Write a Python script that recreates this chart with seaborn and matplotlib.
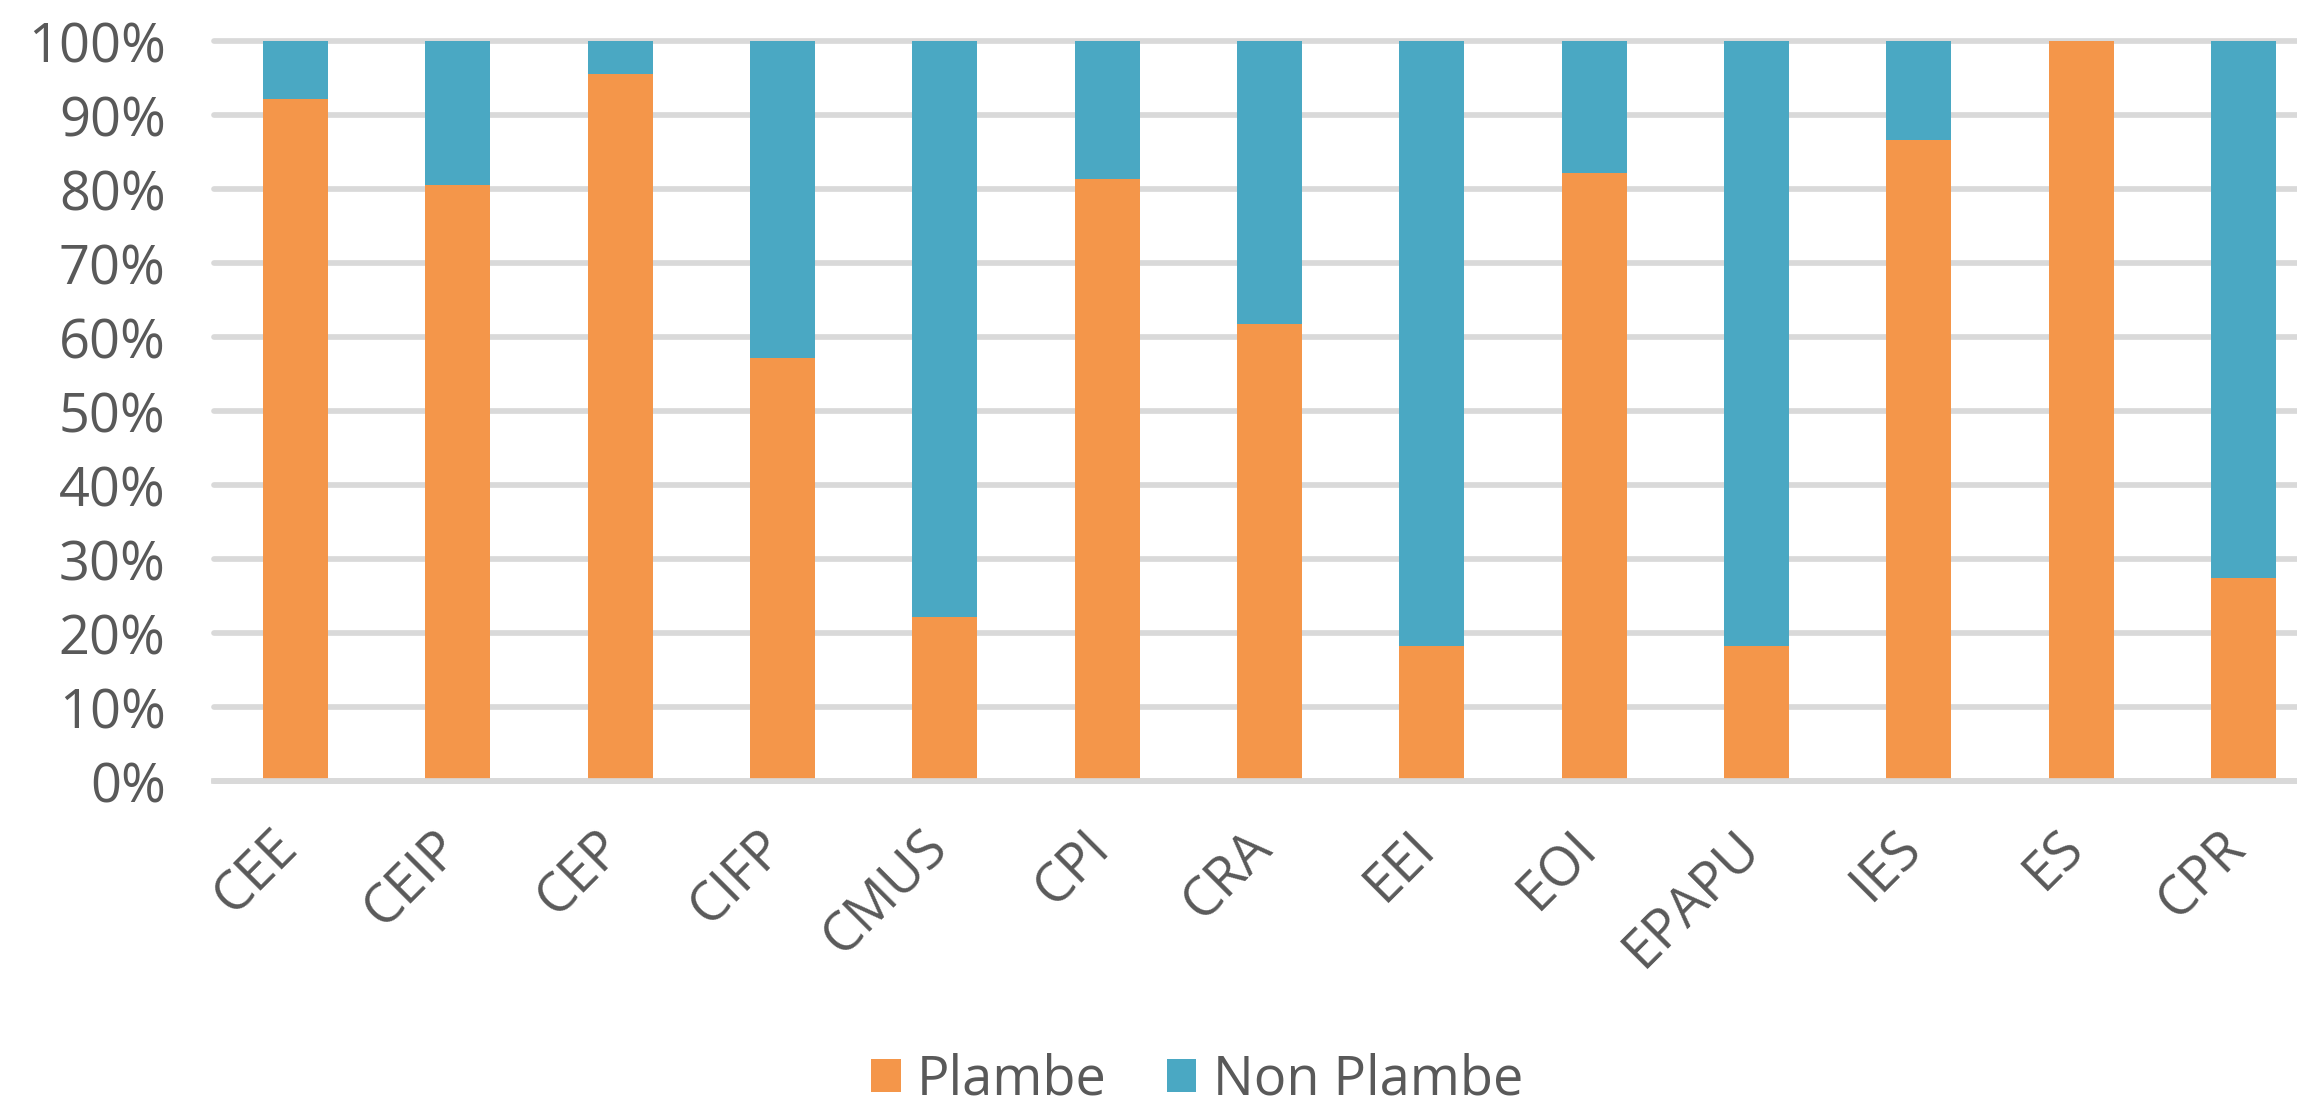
import pandas as pd
import matplotlib
matplotlib.use("Agg")
import matplotlib.pyplot as plt
import matplotlib.transforms as mtransforms
from matplotlib.patches import Patch
import seaborn as sns

# values (percent)
categories = ["CEE", "CEIP", "CEP", "CIFP", "CMUS", "CPI", "CRA",
              "EEI", "EOI", "EPAPU", "IES", "ES", "CPR"]
plambe = [92.2, 80.5, 95.5, 57.2, 22.2, 81.3, 61.7, 18.2, 82.1, 18.2, 86.6, 100.0, 27.5]
non_plambe = [7.8, 19.5, 4.5, 42.8, 77.8, 18.7, 38.3, 81.8, 17.9, 81.8, 13.4, 0.0, 72.5]
y_ticks = [0, 10, 20, 30, 40, 50, 60, 70, 80, 90, 100]
y_tick_labels = [f"{t}%" for t in y_ticks]
series_names = ["Plambe", "Non Plambe"]

ORANGE = "#F4964A"
BLUE = "#4AA8C3"
GRID = "#D9D9D9"
TEXT = "#595959"

sns.set_theme(style="white")
plt.rcParams["font.family"] = ["Open Sans", "DejaVu Sans"]

df = pd.DataFrame({"cat": categories, "plambe": plambe, "non": non_plambe})
df["total"] = df["plambe"] + df["non"]

fig = plt.figure(figsize=(22.97, 11.03), dpi=100)
ax = fig.add_axes([0.0933, 0.2919, 0.9187, 0.6709])

# stacked bars: full column in blue, orange part on top of it
sns.barplot(data=df, x="cat", y="total", color=BLUE, width=0.4,
            saturation=1, linewidth=0, edgecolor="none", ax=ax, zorder=2)
sns.barplot(data=df, x="cat", y="plambe", color=ORANGE, width=0.4,
            saturation=1, linewidth=0, edgecolor="none", ax=ax, zorder=3)

ax.set_ylim(0, 100)
ax.set_xlim(-0.5, len(categories) - 0.5)
ax.set_yticks(y_ticks)
ax.set_yticklabels(y_tick_labels)
ax.set_xlabel("")
ax.set_ylabel("")

ax.set_axisbelow(True)
ax.yaxis.grid(True, color=GRID, linewidth=4.1)
ax.xaxis.grid(False)
for gl in ax.get_ygridlines():
    gl.set_clip_on(False)

for side in ["top", "left", "right"]:
    ax.spines[side].set_visible(False)
ax.spines["bottom"].set_color(GRID)
ax.spines["bottom"].set_linewidth(4.1)
ax.spines["bottom"].set_zorder(4)

ax.tick_params(axis="y", length=0, pad=35, labelsize=39, labelcolor=TEXT)
ax.tick_params(axis="x", length=0, pad=28, labelsize=39, labelcolor=TEXT)

shift = mtransforms.ScaledTranslation(14 / 100, 0, fig.dpi_scale_trans)
for lbl in ax.get_xticklabels():
    lbl.set_rotation(45)
    lbl.set_ha("right")
    lbl.set_transform(lbl.get_transform() + shift)

handles = [Patch(facecolor=ORANGE, edgecolor="none"),
           Patch(facecolor=BLUE, edgecolor="none")]
fig.legend(handles, series_names, loc="center", bbox_to_anchor=(0.5211, 0.0209),
           ncol=2, frameon=False, fontsize=39, labelcolor=TEXT,
           handlelength=0.55, handleheight=0.55, handletextpad=0.3,
           columnspacing=1.1, borderaxespad=0, borderpad=0)

fig.savefig("out.png", dpi=100)
